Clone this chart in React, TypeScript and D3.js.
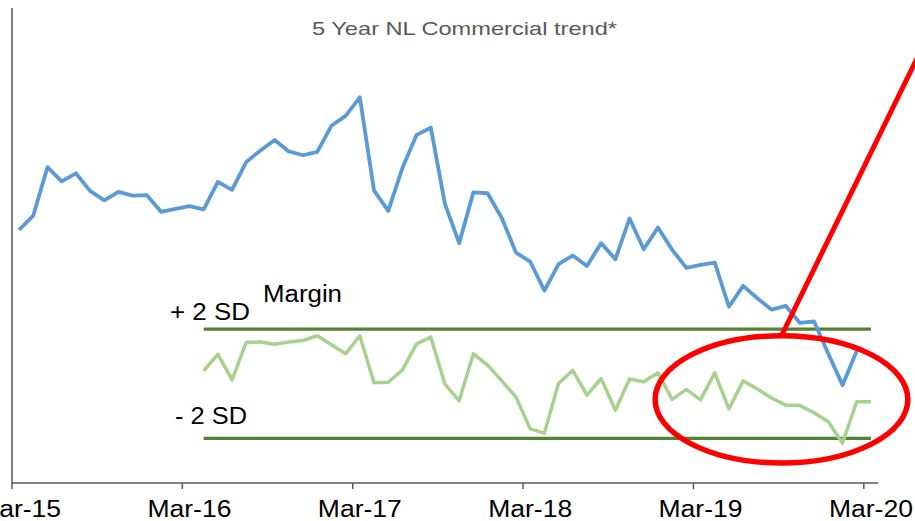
import * as d3 from 'd3';

// months on the category axis (Mar-15 .. Mar-20)
const months = d3.timeMonth.range(new Date(2015, 2, 1), new Date(2020, 3, 1)).map(d3.timeFormat('%b-%y'));
const tickLabels = ['Mar-15', 'Mar-16', 'Mar-17', 'Mar-18', 'Mar-19', 'Mar-20'];

// blue trend, Mar-15 .. Feb-20
const trendValues = [
  53.3, 56.3, 66.5, 63.5, 65.2, 61.5, 59.5, 61.3, 60.5, 60.6, 57.1, 57.7,
  58.3, 57.6, 63.4, 61.7, 67.6, 70.0, 72.2, 69.8, 69.0, 69.7, 75.2, 77.3,
  81.2, 61.6, 57.3, 66.3, 73.3, 74.8, 58.7, 50.5, 61.2, 61.0, 55.8, 48.5,
  46.6, 40.5, 46.1, 47.9, 45.7, 50.5, 47.1, 55.7, 49.2, 53.8, 49.1, 45.3,
  45.9, 46.4, 37.1, 41.5, 38.9, 36.5, 37.3, 33.7, 34.0, 27.2, 20.6, 27.8,
];

// green margin, Apr-16 .. Mar-20
const marginStart = 13;
const marginValues = [
  23.6, 27.1, 21.7, 29.6, 29.7, 29.2, 29.7, 30.0, 31.0, 29.1, 27.2,
  31.0, 21.1, 21.2, 23.8, 29.3, 30.7, 20.8, 17.3, 27.2, 24.8, 21.5, 18.1,
  11.4, 10.5, 21.0, 23.7, 18.5, 22.0, 15.3, 21.9, 21.3, 23.2, 17.6, 19.7,
  17.5, 23.2, 15.6, 21.5, 19.8, 17.9, 16.4, 16.3, 14.8, 12.9, 8.4, 17.1, 17.1,
];
const upperSD = 32.4;
const lowerSD = 9.4;

// highlight ellipse + pointer, in month-index / value units
const highlight = { cx: 53.7, cy: 17.6, rx: 8.9, ry: 13.4 };
const pointerEnd = { i: 65.6, v: 103.8 };

export default function App() {
  const width = 915;
  const height = 521;
  const left = 12;
  const right = 878;
  const top = 8;
  const bottom = 483;

  const x = d3.scaleBand<string>().domain(months).range([left, right]).padding(0);
  const bw = x.bandwidth();
  const xi = d3.scaleLinear().domain([0, months.length]).range([left, right]);
  const cx = (i: number) => xi(i + 0.5);
  const y = d3.scaleLinear().domain([0, 100]).range([bottom, top]);

  const line = d3.line<number>().x((_, i) => cx(i)).y(d => y(d));
  const marginLine = d3.line<number>().x((_, i) => cx(i + marginStart)).y(d => y(d));

  const sdX1 = cx(marginStart);
  const sdX2 = cx(marginStart + marginValues.length - 1);

  const ex = cx(highlight.cx);
  const ey = y(highlight.cy);
  const erx = xi(highlight.rx) - xi(0);
  const ery = y(0) - y(highlight.ry);

  const font = 'Liberation Sans, Arial, sans-serif';

  return (
    <svg width={width} height={height} style={{ position: 'absolute', left: 0, top: 0, background: '#fff' }}>
      <text x={312} y={34.5} fontFamily={font} fontSize={19} fill="#595959" textLength={305} lengthAdjust="spacingAndGlyphs">
        5 Year NL Commercial trend*
      </text>

      {/* axes */}
      <line x1={left} x2={left} y1={top} y2={bottom} stroke="#595959" strokeWidth={1.5} />
      <line x1={left} x2={right} y1={bottom} y2={bottom} stroke="#595959" strokeWidth={1.5} />
      {tickLabels.map(t => (
        <g key={t}>
          <line x1={x(t)} x2={x(t)} y1={bottom} y2={bottom + 6} stroke="#595959" strokeWidth={1.5} />
          <text x={(x(t) as number) + bw / 2} y={517} textAnchor="middle" fontFamily={font} fontSize={23}
            fill="#000" textLength={84} lengthAdjust="spacingAndGlyphs">{t}</text>
        </g>
      ))}

      {/* +/- 2 SD */}
      <line x1={sdX1} x2={sdX2} y1={y(upperSD)} y2={y(upperSD)} stroke="#548235" strokeWidth={3.2} />
      <line x1={sdX1} x2={sdX2} y1={y(lowerSD)} y2={y(lowerSD)} stroke="#548235" strokeWidth={3.2} />

      <path d={line(trendValues) || ''} fill="none" stroke="#5B9BD5" strokeWidth={3.8} strokeLinejoin="round" />
      <path d={marginLine(marginValues) || ''} fill="none" stroke="#A9D18E" strokeWidth={3.5} strokeLinejoin="round" />

      <text x={263} y={302} fontFamily={font} fontSize={23} textLength={79} lengthAdjust="spacingAndGlyphs">Margin</text>
      <text x={170} y={320} fontFamily={font} fontSize={23} textLength={80} lengthAdjust="spacingAndGlyphs">+ 2 SD</text>
      <text x={175} y={424} fontFamily={font} fontSize={23} textLength={72} lengthAdjust="spacingAndGlyphs">- 2 SD</text>

      {/* highlight */}
      <ellipse cx={ex} cy={ey} rx={erx} ry={ery} fill="none" stroke="#FF0000" strokeWidth={5.5} />
      <line x1={ex} y1={ey - ery} x2={cx(pointerEnd.i)} y2={y(pointerEnd.v)} stroke="#FF0000" strokeWidth={5} />
    </svg>
  );
}
